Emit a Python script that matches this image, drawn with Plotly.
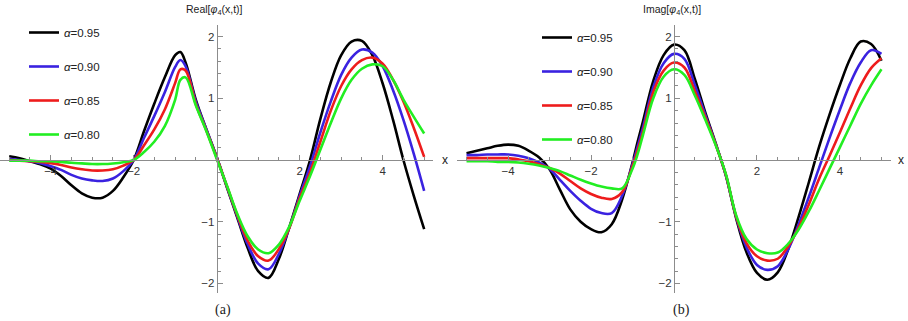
import plotly.graph_objects as go

# ---------------- data ----------------
x_vals = [-5.0, -4.75, -4.5, -4.25, -4.0, -3.75, -3.5, -3.25, -3.0, -2.75, -2.5, -2.25,
          -2.0, -1.75, -1.5, -1.25, -1.0, -0.875, -0.75, -0.5, -0.25, 0.0, 0.25, 0.5, 0.75,
          1.0, 1.25, 1.5, 1.75, 2.0, 2.25, 2.5, 2.75, 3.0, 3.25, 3.5, 3.75, 4.0, 4.25,
          4.5, 4.75, 5.0]

alpha_labels = ["0.95", "0.90", "0.85", "0.80"]

real_a095 = [0.06, 0.03, -0.02, -0.07, -0.14, -0.26, -0.41, -0.54, -0.61, -0.61, -0.50, -0.28,
             0.0, 0.47, 0.92, 1.34, 1.70, 1.75, 1.58, 0.97, 0.50, 0.05, -0.45, -0.94, -1.43,
             -1.80, -1.91, -1.60, -1.09, -0.55, 0.0, 0.67, 1.26, 1.70, 1.92, 1.93, 1.70, 1.24,
             0.65, 0.0, -0.58, -1.12]
real_a090 = [0.02, 0.0, -0.02, -0.05, -0.10, -0.16, -0.24, -0.30, -0.33, -0.34, -0.30, -0.18,
             0.0, 0.36, 0.72, 1.10, 1.51, 1.62, 1.52, 0.94, 0.50, 0.05, -0.44, -0.92, -1.37,
             -1.68, -1.77, -1.52, -1.10, -0.58, -0.10, 0.45, 0.95, 1.38, 1.66, 1.79, 1.74, 1.52,
             1.13, 0.65, 0.10, -0.50]
real_a085 = [0.0, -0.01, -0.02, -0.03, -0.05, -0.08, -0.12, -0.15, -0.17, -0.17, -0.15, -0.09,
             0.0, 0.24, 0.50, 0.82, 1.25, 1.47, 1.45, 0.90, 0.48, 0.04, -0.43, -0.90, -1.31,
             -1.56, -1.63, -1.44, -1.10, -0.62, -0.20, 0.30, 0.80, 1.20, 1.47, 1.62, 1.66, 1.56,
             1.30, 0.95, 0.52, 0.05]
real_a080 = [-0.01, -0.01, -0.01, -0.02, -0.02, -0.03, -0.045, -0.055, -0.065, -0.065, -0.055, -0.035,
             0.0, 0.13, 0.30, 0.55, 0.98, 1.30, 1.34, 0.88, 0.47, 0.02, -0.42, -0.88, -1.24,
             -1.45, -1.51, -1.37, -1.08, -0.66, -0.26, 0.17, 0.60, 1.00, 1.30, 1.48, 1.55, 1.52,
             1.30, 0.98, 0.70, 0.43]

imag_a095 = [0.11, 0.15, 0.19, 0.23, 0.25, 0.23, 0.15, 0.04, -0.15, -0.48, -0.80, -1.00,
             -1.12, -1.17, -1.04, -0.64, -0.04, 0.30, 0.62, 1.28, 1.70, 1.87, 1.78, 1.32, 0.78,
             0.28, -0.25, -0.95, -1.50, -1.83, -1.94, -1.82, -1.45, -0.93, -0.36, 0.22, 0.74,
             1.22, 1.65, 1.92, 1.88, 1.61]
imag_a090 = [0.08, 0.08, 0.09, 0.09, 0.09, 0.07, 0.03, -0.04, -0.14, -0.32, -0.50, -0.66,
             -0.79, -0.86, -0.86, -0.58, -0.07, 0.22, 0.52, 1.18, 1.57, 1.72, 1.64, 1.22, 0.74,
             0.27, -0.25, -0.93, -1.42, -1.70, -1.78, -1.72, -1.45, -1.05, -0.60, -0.12, 0.36,
             0.82, 1.25, 1.58, 1.78, 1.72]
imag_a085 = [0.03, 0.03, 0.03, 0.03, 0.03, 0.01, -0.02, -0.07, -0.13, -0.22, -0.34, -0.46,
             -0.55, -0.61, -0.63, -0.52, -0.10, 0.16, 0.45, 1.10, 1.45, 1.58, 1.50, 1.12, 0.70,
             0.26, -0.24, -0.92, -1.35, -1.56, -1.63, -1.60, -1.40, -1.10, -0.72, -0.30, 0.07,
             0.45, 0.84, 1.21, 1.49, 1.65]
imag_a080 = [-0.02, -0.02, -0.02, -0.03, -0.03, -0.04, -0.06, -0.09, -0.13, -0.18, -0.25, -0.32,
             -0.38, -0.43, -0.46, -0.46, -0.14, 0.10, 0.40, 1.00, 1.35, 1.47, 1.38, 1.05, 0.66,
             0.25, -0.23, -0.90, -1.28, -1.45, -1.51, -1.50, -1.36, -1.13, -0.83, -0.49, -0.14,
             0.21, 0.56, 0.91, 1.21, 1.47]

x_ticks = [-4, -2, 2, 4]
y_ticks = [-2, -1, 1, 2]

real_series = [real_a095, real_a090, real_a085, real_a080]
imag_series = [imag_a095, imag_a090, imag_a085, imag_a080]
colors = ["#000000", "#3a22e0", "#ee1c1c", "#22ee22"]

# ---------------- layout geometry ----------------
W, H = 908, 321
X_RANGE = [-5.22, 5.22]
Y_RANGE = [-2.16, 2.19]
y_top_px, y_bot_px = 24.9, 293.3
left_px = (0.07, 433.3)
right_px = (457.4, 890.6)

def frac_x(px):
    return px / W

def frac_y(py):
    return 1 - py / H

ydom = [frac_y(y_bot_px), frac_y(y_top_px)]
xdom1 = [frac_x(left_px[0]), frac_x(left_px[1])]
xdom2 = [frac_x(right_px[0]), frac_x(right_px[1])]

def zero_pos(dom, rng):
    return dom[0] + (0 - rng[0]) / (rng[1] - rng[0]) * (dom[1] - dom[0])

fig = go.Figure()

line_kw = dict(width=2.6, shape="spline", smoothing=1.0)

for i, (ys, c) in enumerate(zip(real_series, colors)):
    fig.add_trace(go.Scatter(
        x=x_vals, y=ys, mode="lines", line=dict(color=c, **line_kw),
        name="<i>α</i>=" + alpha_labels[i], legend="legend", legendgroup="r%d" % i,
        xaxis="x", yaxis="y", hoverinfo="skip"))

for i, (ys, c) in enumerate(zip(imag_series, colors)):
    fig.add_trace(go.Scatter(
        x=x_vals, y=ys, mode="lines", line=dict(color=c, **line_kw),
        name="<i>α</i>=" + alpha_labels[i], legend="legend2", legendgroup="i%d" % i,
        xaxis="x2", yaxis="y2", hoverinfo="skip"))

axis_col = "#8c8c8c"
tick_font = dict(family="Liberation Sans, Arial, sans-serif", size=11.5, color="#333333")

def xaxis_cfg(dom):
    return dict(domain=dom, range=X_RANGE, anchor="free", position=zero_pos(ydom, Y_RANGE),
                showline=True, linecolor=axis_col, linewidth=1, showgrid=False, zeroline=False,
                tickmode="array", tickvals=x_ticks, ticks="inside", ticklen=5, tickcolor=axis_col,
                tickfont=tick_font, fixedrange=True,
                minor=dict(tickmode="linear", tick0=0, dtick=0.5, ticks="inside", ticklen=3,
                           tickcolor=axis_col, showgrid=False))

def yaxis_cfg(xdom):
    return dict(domain=ydom, range=Y_RANGE, anchor="free", position=zero_pos(xdom, X_RANGE),
                showline=True, linecolor=axis_col, linewidth=1, showgrid=False, zeroline=False,
                tickmode="array", tickvals=y_ticks, ticks="inside", ticklen=5, tickcolor=axis_col,
                tickfont=tick_font, fixedrange=True,
                minor=dict(tickmode="linear", tick0=0, dtick=0.2, ticks="inside", ticklen=3,
                           tickcolor=axis_col, showgrid=False))

legend_common = dict(
    font=dict(family="Liberation Sans, Arial, sans-serif", size=11.5, color="#222222"),
    bgcolor="rgba(0,0,0,0)", borderwidth=0, tracegroupgap=15, xanchor="left", yanchor="top",
    itemclick=False, itemdoubleclick=False)

fig.update_layout(
    width=W, height=H, margin=dict(l=0, r=0, t=0, b=0),
    paper_bgcolor="white", plot_bgcolor="white",
    xaxis=xaxis_cfg(xdom1), yaxis=yaxis_cfg(xdom1),
    xaxis2=xaxis_cfg(xdom2), yaxis2=yaxis_cfg(xdom2),
    legend=dict(x=frac_x(24), y=frac_y(18), **legend_common),
    legend2=dict(x=frac_x(537), y=frac_y(23), **legend_common),
    showlegend=True,
)

title_font = dict(family="Liberation Sans, Arial, sans-serif", size=10.5, color="#222222")
cap_font = dict(family="Liberation Serif, DejaVu Serif, serif", size=14, color="#222222")

annots = [
    dict(text="Real[<i>φ</i><sub>4</sub>(x,t)]", x=frac_x(214), y=frac_y(10)),
    dict(text="Imag[<i>φ</i><sub>4</sub>(x,t)]", x=frac_x(672), y=frac_y(10)),
]
for a in annots:
    fig.add_annotation(xref="paper", yref="paper", x=a["x"], y=a["y"], text=a["text"],
                       showarrow=False, font=title_font, xanchor="center", yanchor="middle")

for px, py in [(445, 160), (901, 160)]:
    fig.add_annotation(xref="paper", yref="paper", x=frac_x(px), y=frac_y(py), text="x",
                       showarrow=False,
                       font=dict(family="Liberation Sans, Arial, sans-serif", size=12, color="#222222"),
                       xanchor="center", yanchor="middle")

for txt, px in [("(a)", 223), ("(b)", 681)]:
    fig.add_annotation(xref="paper", yref="paper", x=frac_x(px), y=frac_y(310), text=txt,
                       showarrow=False, font=cap_font, xanchor="center", yanchor="middle")

fig.write_html("out.html",
               config={"displayModeBar": False, "staticPlot": True},
               post_script="document.body.style.margin='0';document.body.style.overflow='hidden';")
